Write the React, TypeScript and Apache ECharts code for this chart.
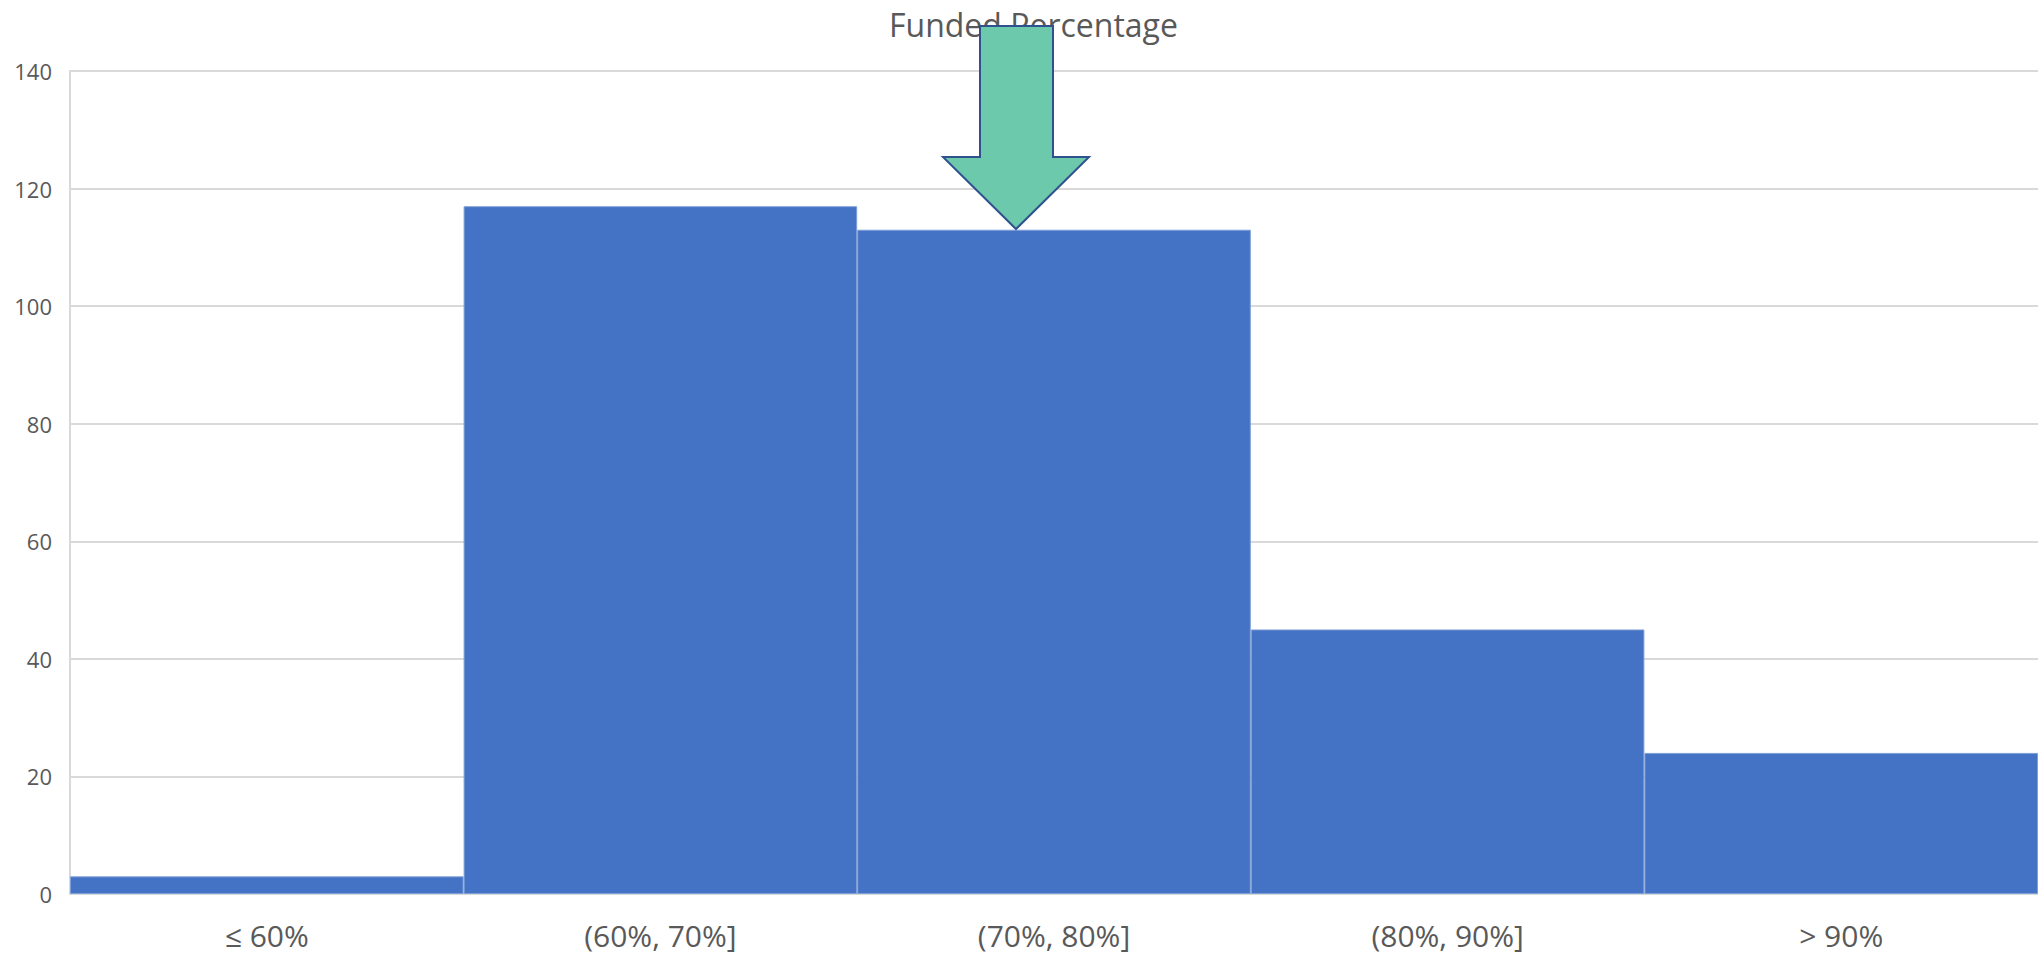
import React, { useEffect, useRef } from "react";
import * as echarts from "echarts";

const categories = ["≤ 60%", "(60%, 70%]", "(70%, 80%]", "(80%, 90%]", "> 90%"];
const counts = [3, 117, 113, 45, 24];
const yTicks = { min: 0, max: 140, interval: 20 };
const titleText = "Funded Percentage";

export default function App() {
  const ref = useRef<HTMLDivElement>(null);
  useEffect(() => {
    document.body.style.margin = "0";
    const chart = echarts.init(ref.current!, null, { renderer: "svg" });
    const font = "'Open Sans', 'Segoe UI', sans-serif";
    chart.setOption({
      animation: false,
      backgroundColor: "#ffffff",
      title: {
        text: titleText,
        left: 884,
        top: 3,
        textStyle: { fontFamily: font, fontSize: 32, fontWeight: "normal", color: "#595959" },
      },
      grid: { left: 70, width: 1976, top: 71, bottom: 60 },
      xAxis: {
        type: "category",
        data: categories,
        axisLine: { show: true, lineStyle: { color: "#D9D9D9", width: 2 } },
        axisTick: { show: false },
        axisLabel: { fontFamily: font, fontSize: 30, color: "#595959", margin: 26 },
      },
      yAxis: {
        type: "value",
        min: yTicks.min,
        max: yTicks.max,
        interval: yTicks.interval,
        axisLine: { show: true, lineStyle: { color: "#D9D9D9", width: 2 } },
        axisTick: { show: false },
        splitLine: { lineStyle: { color: "#D9D9D9", width: 2 } },
        axisLabel: { fontFamily: font, fontSize: 22, color: "#595959", margin: 18 },
      },
      series: [
        {
          type: "bar",
          data: counts,
          barCategoryGap: "0%",
          itemStyle: { color: "#4472C4", borderColor: "#7F9FD8", borderWidth: 1 },
        },
      ],
      graphic: [
        {
          type: "polygon",
          z: 100,
          shape: {
            points: [
              [980, 26],
              [1053, 26],
              [1053, 157],
              [1089, 157],
              [1016, 229],
              [943, 157],
              [980, 157],
            ],
          },
          style: { fill: "#6DC9AB", stroke: "#2F528F", lineWidth: 2 },
        },
      ],
    });
    return () => chart.dispose();
  }, []);
  return <div ref={ref} style={{ width: 2038, height: 954 }} />;
}
